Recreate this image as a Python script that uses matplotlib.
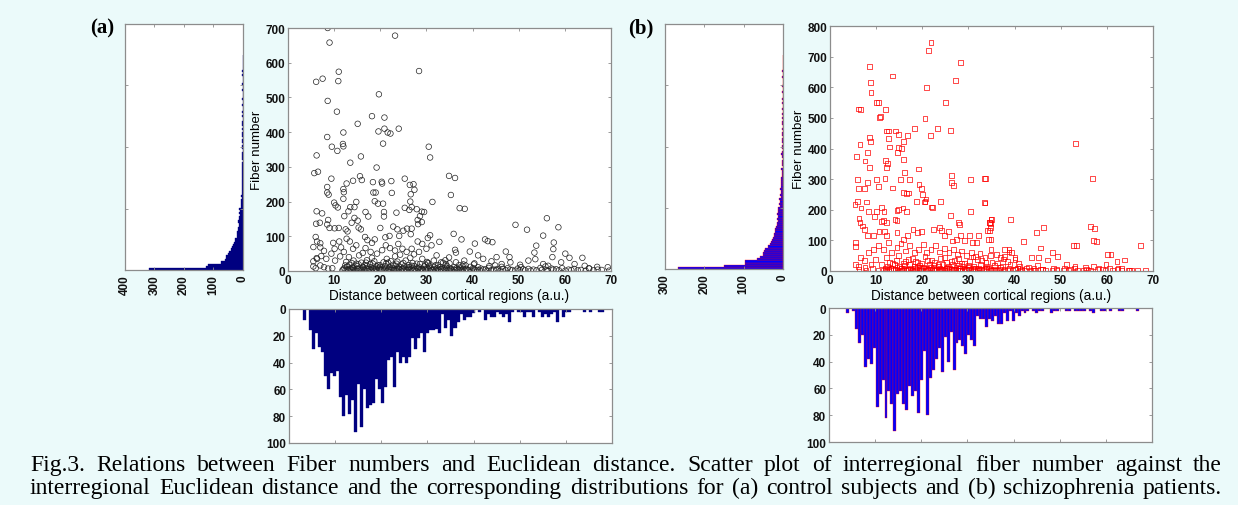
"""Fig.3 recreation: fiber number vs. Euclidean distance between cortical
regions, with marginal histograms, for (a) controls and (b) schizophrenia.
"""

import matplotlib

matplotlib.use("Agg")
import matplotlib.pyplot as plt  # noqa: E402
import numpy as np  # noqa: E402

W, H = 1238, 506
BG = "#ebfafa"
SPINE = "#8c8c8c"

plt.rcParams["font.family"] = ["Liberation Sans", "DejaVu Sans"]
plt.rcParams["font.weight"] = "bold"

# ---------------------------------------------------------------------------
# Marginal histograms (100 bins each)
# ---------------------------------------------------------------------------
DIST_RANGE_A = (3.1, 68.2)
DIST_RANGE_B = (3.7, 67.8)
dist_counts_a = [8, 0, 16, 30, 18, 28, 32, 50, 60, 48,
                 50, 46, 66, 80, 64, 78, 68, 92, 56, 88,
                 60, 74, 72, 70, 52, 60, 70, 58, 38, 36,
                 58, 32, 40, 36, 40, 36, 22, 30, 22, 18,
                 32, 18, 16, 16, 15, 18, 4, 14, 8, 20,
                 14, 10, 4, 8, 6, 6, 3, 0, 2, 0,
                 8, 4, 6, 6, 2, 4, 6, 4, 10, 2,
                 0, 2, 2, 6, 2, 2, 6, 0, 2, 6,
                 4, 6, 4, 2, 10, 0, 6, 2, 2, 0,
                 0, 0, 0, 2, 0, 2, 0, 0, 2, 2]
dist_counts_b = [4, 0, 2, 16, 26, 20, 44, 38, 42, 30,
                 74, 64, 54, 82, 62, 72, 92, 64, 62, 72,
                 76, 58, 66, 62, 78, 54, 32, 80, 52, 46,
                 38, 30, 48, 22, 40, 18, 46, 26, 24, 28,
                 34, 20, 24, 28, 6, 8, 8, 14, 8, 10,
                 6, 12, 12, 4, 10, 2, 10, 4, 6, 2,
                 4, 2, 0, 2, 4, 2, 2, 0, 0, 4,
                 2, 2, 0, 0, 2, 2, 0, 2, 2, 2,
                 2, 0, 2, 4, 0, 0, 2, 2, 0, 2,
                 0, 0, 2, 2, 0, 0, 0, 0, 2, 0]

# fiber-number histogram, bins of width 7 starting at 0
FIB_BIN = 7.0
fib_counts_a = [319, 124, 120, 75, 60, 56, 56, 50, 47, 42,
                38, 34, 30, 28, 26, 22, 20, 19, 17, 18,
                15, 14, 16, 12, 13, 11, 12, 10, 13, 8,
                7, 6, 8, 5, 6, 4, 3, 5, 2, 4,
                3, 2, 4, 3, 2, 3, 2, 4, 2, 3,
                0, 2, 3, 2, 2, 0, 3, 2, 0, 2,
                2, 0, 2, 3, 0, 2, 0, 2, 2, 0,
                0, 2, 0, 2, 0, 0, 2, 0, 0, 2,
                0, 0, 0, 2, 0, 0, 2, 0, 0, 0,
                2, 0, 2, 0, 0, 0, 0, 0, 0, 0]
fib_counts_b = [268, 151, 96, 96, 66, 58, 50, 50, 48, 45,
                38, 32, 30, 28, 26, 24, 22, 20, 20, 18,
                14, 14, 13, 14, 12, 14, 13, 12, 12, 8,
                10, 7, 9, 6, 8, 6, 5, 7, 4, 6,
                5, 4, 6, 3, 3, 2, 4, 0, 3, 2,
                3, 0, 2, 4, 2, 0, 3, 2, 0, 2,
                3, 0, 2, 2, 0, 3, 0, 2, 2, 0,
                2, 0, 2, 0, 2, 0, 0, 2, 0, 2,
                0, 0, 2, 0, 0, 2, 0, 0, 0, 2,
                0, 0, 2, 0, 0, 0, 0, 0, 0, 0]

# ---------------------------------------------------------------------------
# Scatter (a): control subjects -- (distance, fiber number)
# ---------------------------------------------------------------------------
sparse_a_x = [8.6, 9.0, 6.1, 7.5, 11.0, 10.9, 8.6, 10.6, 19.7, 23.2,
              28.4, 18.2, 20.9, 20.9, 21.6, 22.2, 19.6, 24.0, 15.1, 12.0,
              8.5, 9.5, 11.9, 12.0, 10.7, 20.6, 30.5, 30.8, 6.2, 15.8,
              13.5, 5.7, 6.5, 19.2, 9.4, 15.6, 16.0, 14.1, 12.7, 12.0,
              12.1, 12.0, 8.5, 8.5, 8.8, 18.4, 18.5, 19.0, 20.3, 20.4,
              22.4, 22.5, 25.3, 26.4, 27.2, 27.4, 26.6, 26.5, 25.3, 26.3,
              26.8, 27.9, 29.0, 29.5, 31.3, 28.6, 28.1, 28.2, 10.0, 10.3,
              10.8, 14.8, 14.4, 13.5, 13.1, 16.8, 17.4, 18.8, 19.5, 20.6,
              20.8, 20.8, 23.5, 6.2, 7.4, 6.1, 6.9, 8.5, 9.0, 8.7,
              10.1, 11.0, 12.2, 12.5, 12.9, 13.8, 14.4, 15.1, 15.3, 15.8,
              20.0, 21.1, 22.0, 22.8, 23.7, 24.1, 25.0, 25.8, 26.6, 26.8,
              29.0, 30.3, 30.8, 6.0, 6.3, 7.0, 5.5, 7.0, 7.8, 6.2,
              9.8, 10.1, 11.1, 11.5, 12.7, 13.4, 14.1, 14.8, 16.7, 17.2,
              18.2, 18.8, 16.8, 17.9, 21.2, 22.1, 23.2, 23.9, 24.8, 25.7,
              26.8, 28.1, 29.1, 30.0, 31.1, 32.8, 5.5, 6.0, 7.0, 7.8,
              8.7, 9.6, 5.5, 6.3, 8.3, 7.2,
              34.9, 36.2, 35.3, 37.2, 38.3, 35.9, 37.6, 40.5, 39.4, 42.7,
              43.3, 44.3, 47.2, 48.0, 49.3, 51.8, 56.1, 55.3, 53.8, 53.4,
              53.6, 58.6, 57.6, 57.5, 57.3, 60.1, 61.0, 63.8, 34.9, 36.2,
              36.4, 38.5, 67.0, 69.3]
sparse_a_y = [700, 658, 545, 554, 574, 547, 490, 459, 509, 678,
              576, 446, 442, 410, 399, 396, 402, 410, 424, 399,
              386, 358, 366, 359, 346, 367, 358, 327, 333, 330,
              312, 282, 286, 298, 266, 273, 262, 260, 252, 236,
              227, 208, 242, 226, 220, 256, 226, 226, 257, 252,
              259, 225, 266, 248, 250, 234, 221, 200, 182, 176,
              184, 178, 171, 170, 199, 158, 147, 135, 197, 189,
              183, 199, 184, 184, 172, 170, 157, 201, 194, 194,
              170, 157, 168, 172, 166, 136, 139, 134, 124, 147,
              123, 124, 158, 120, 114, 139, 153, 145, 125, 120,
              124, 97, 101, 128, 120, 101, 116, 122, 106, 122,
              141, 95, 103, 98, 85, 80, 69, 68, 58, 37,
              81, 64, 85, 68, 93, 85, 64, 74, 98, 89,
              81, 91, 66, 55, 74, 66, 59, 78, 64, 55,
              64, 85, 78, 64, 74, 84, 13, 8, 16, 11,
              7, 8, 28, 35, 35, 43,
              274, 268, 219, 181, 179, 107, 91, 79, 56, 91,
              86, 83, 56, 40, 133, 119, 152, 102, 73, 53,
              34, 126, 82, 63, 40, 50, 38, 38, 39, 61,
              53, 16, 12, 11]

# low-fiber band (a), where markers pile up into a dark stripe
band_a_x = [11.8, 12.5, 13.1, 13.9, 14.6, 15.2, 16.0, 16.7, 17.3, 18.1,
            18.8, 19.4, 20.2, 20.9, 21.5, 22.3, 23.0, 23.6, 24.4, 25.1,
            25.7, 26.5, 27.2, 27.8, 28.6, 29.3, 29.9, 30.7, 31.4, 32.0,
            32.8, 33.5, 34.1, 34.9, 35.6, 36.2, 37.0, 37.7, 38.3, 39.1,
            39.8, 40.6, 41.5, 42.3, 43.2, 44.0, 45.1, 46.0, 47.2, 48.1,
            49.3, 50.2, 51.4, 52.6, 53.9, 55.0, 56.3, 57.5, 58.7, 60.1,
            61.4, 62.8, 64.5, 66.2, 68.0, 69.6,
            12.2, 13.4, 14.1, 15.5, 16.3, 17.6, 18.4, 19.7, 20.5, 21.8,
            22.6, 23.9, 24.7, 26.0, 26.8, 28.1, 28.9, 30.2, 31.0, 32.3,
            33.1, 34.4, 35.2, 36.5, 37.3, 38.6, 40.1, 41.8, 43.5, 45.4,
            47.6, 49.8, 52.1, 54.7, 57.1, 59.4, 62.0, 65.3,
            12.8, 14.0, 15.0, 16.2, 17.1, 18.0, 19.2, 20.0, 21.1, 22.0,
            23.3, 24.1, 25.2, 26.3, 27.4, 28.3, 29.5, 30.6, 31.7, 33.0,
            34.5, 36.0, 37.8, 39.5, 41.2, 43.6, 46.3, 50.5, 55.8,
            13.3, 14.8, 16.6, 17.8, 19.5, 21.3, 22.8, 24.6, 26.2, 27.9,
            29.8, 31.9, 34.2, 37.1, 40.3, 44.9,
            12.6, 15.9, 18.7, 20.7, 23.7, 27.0, 30.1, 33.6,
            13.2, 15.4, 17.1, 19.3, 21.4, 23.2, 25.5, 27.3, 29.1, 31.6,
            33.2, 12.1, 16.2, 20.4, 24.3, 28.4, 32.2, 18.2, 22.3, 26.5,
            30.4, 34.1, 14.2, 11.3, 9.4, 10.2, 36.4, 38.2, 40.4, 42.3,
            44.1, 46.3, 41.2, 45.2, 50.3, 52.1, 55.3, 59.2, 62.1, 64.3,
            48.2, 56.4, 65.2,
            12.0, 12.9, 13.6, 14.3, 15.0, 15.8, 16.5, 17.1, 17.9, 18.6,
            19.1, 19.9, 20.6, 21.2, 22.0, 22.8, 23.3, 24.1, 24.9, 25.5,
            26.2, 27.0, 27.5, 28.3, 29.0, 29.6, 30.4, 31.1, 31.7, 32.5,
            33.2, 33.9, 34.6, 35.3, 36.0, 36.7, 37.4, 38.0, 38.9, 40.3,
            41.0, 42.8, 44.6, 46.6, 48.6, 51.0, 53.2, 56.0, 58.1, 60.8,
            63.5, 67.1,
            12.4, 13.8, 15.3, 16.9, 18.4, 19.9, 21.7, 23.5, 25.0, 26.8,
            28.6, 30.3, 32.5, 35.0, 38.0]
band_a_y = [2, 4, 1, 3, 2, 5, 1, 3, 4, 2,
            1, 3, 2, 4, 1, 3, 2, 5, 2, 1,
            3, 4, 2, 1, 3, 2, 4, 1, 2, 3,
            1, 4, 2, 3, 1, 2, 4, 1, 3, 2,
            1, 3, 2, 4, 1, 2, 3, 1, 2, 4,
            1, 3, 2, 1, 2, 3, 1, 4, 2, 1,
            3, 2, 1, 2, 3, 1,
            8, 6, 9, 7, 10, 6, 8, 9, 7, 6,
            9, 8, 6, 10, 7, 8, 6, 9, 7, 8,
            6, 9, 7, 8, 10, 6, 8, 7, 9, 6,
            8, 7, 6, 9, 7, 8, 6, 7,
            13, 11, 14, 12, 15, 11, 13, 12, 14, 11,
            15, 12, 13, 11, 14, 12, 13, 15, 11, 12,
            14, 11, 13, 12, 11, 14, 12, 11, 13,
            18, 21, 17, 20, 16, 22, 18, 19, 17, 21,
            18, 16, 20, 17, 19, 16,
            26, 24, 28, 25, 27, 23, 26, 24,
            40, 45, 31, 50, 35, 42, 30, 48, 35, 30,
            25, 55, 52, 60, 47, 55, 45, 38, 28, 38,
            22, 31, 30, 42, 50, 30, 25, 30, 22, 35,
            28, 20, 45, 40, 18, 30, 20, 25, 20, 15,
            25, 15, 8,
            5, 3, 6, 4, 7, 3, 5, 6, 2, 4,
            6, 5, 3, 7, 4, 6, 3, 5, 7, 4,
            6, 3, 5, 7, 4, 6, 5, 3, 6, 4,
            5, 7, 3, 6, 4, 5, 3, 6, 4, 5,
            3, 5, 4, 6, 3, 5, 4, 3, 5, 4,
            3, 4,
            16, 23, 19, 24, 21, 17, 24, 21, 23, 15,
            20, 24, 17, 22, 19]

# ---------------------------------------------------------------------------
# Scatter (b): schizophrenia patients
# ---------------------------------------------------------------------------
sparse_b_x = [21.9, 21.4, 28.3, 8.5, 13.5, 8.7, 8.9, 21.0, 27.2, 10.1,
              10.5, 25.1, 6.1, 6.6, 12.0, 10.7, 11.0, 20.6, 12.3, 12.6,
              14.2, 14.9, 18.4, 23.3, 21.7, 26.2, 6.5, 8.6, 8.7, 12.6,
              12.9, 8.1, 5.8, 7.6, 12.1, 12.4, 12.3, 14.6, 14.9, 15.5,
              16.0, 16.8, 16.0, 16.1, 8.6, 6.0, 6.2, 7.5, 8.1, 10.0,
              10.5, 11.9, 13.5, 15.3, 17.3, 19.2, 19.3, 19.8, 20.0, 20.4,
              15.9, 16.5, 17.0, 26.4, 26.4, 26.7, 30.5, 33.5, 23.9, 22.0,
              22.3, 20.8, 20.6, 18.8, 5.4, 5.9, 6.7, 7.9, 6.3, 6.5,
              8.3, 10.1, 9.6, 11.2, 11.7, 14.5, 14.9, 15.8, 16.5, 26.1,
              27.8, 28.1, 30.4, 33.5, 35.0, 34.8, 7.1, 7.5, 8.1, 9.4,
              10.6, 11.8, 12.3, 14.5, 16.0, 16.8,
              18.0, 18.9, 19.9, 22.5, 23.8, 24.1, 24.9, 25.7, 26.6, 27.5,
              28.3, 29.1, 30.3, 30.9, 31.8, 32.2, 34.2, 34.5, 5.5, 5.6,
              6.6, 7.4, 5.6, 11.1, 11.6, 12.3, 14.1, 14.5,
              8.3, 9.4, 10.5, 11.6, 12.6, 13.4, 14.5, 15.4, 16.3, 17.3,
              18.3, 19.1, 20.2, 21.0, 21.9, 22.8, 23.8, 24.8, 25.8, 26.7,
              27.6, 28.5, 29.6, 30.7, 31.6, 32.5, 33.6, 34.7, 9.8, 11.2,
              7.6, 8.9, 6.1, 6.3, 7.8, 9.2, 10.4,
              53.2, 56.9, 33.7, 33.6, 34.5, 34.7, 34.9, 34.6, 34.3, 34.9,
              39.2, 41.9, 44.8, 46.2, 45.6, 52.8, 53.5, 56.4, 57.3, 57.1,
              57.7, 67.3, 60.2, 60.9, 62.2, 63.9, 40.1, 38.8, 37.9, 43.7,
              45.1, 47.1, 48.2, 49.3, 51.3, 53.1, 55.3, 57.1, 59.8, 63.1,
              65.4, 68.3, 34.9, 36.1, 36.9, 37.9, 38.8, 39.4, 40.1]
sparse_b_y = [747, 719, 681, 669, 637, 616, 582, 600, 622, 551,
              551, 551, 529, 527, 527, 500, 505, 498, 457, 457,
              457, 446, 464, 466, 442, 458, 414, 436, 424, 432,
              405, 387, 375, 359, 361, 352, 337, 387, 403, 400,
              424, 442, 363, 322, 339, 300, 270, 270, 289, 299,
              275, 301, 271, 300, 299, 333, 282, 270, 251, 225,
              257, 253, 255, 313, 289, 279, 300, 302, 227, 209,
              207, 235, 226, 226, 218, 228, 206, 225, 171, 158,
              193, 193, 178, 208, 193, 198, 200, 206, 193, 180,
              158, 153, 194, 223, 167, 156, 147, 136, 115, 115,
              129, 129, 115, 126, 104, 115,
              136, 126, 130, 136, 143, 131, 115, 129, 98, 104,
              115, 99, 115, 94, 92, 115, 132, 158, 93, 79,
              43, 33, 22, 162, 164, 158, 169, 165,
              60, 71, 82, 71, 93, 60, 76, 91, 65, 82,
              60, 71, 87, 60, 71, 82, 62, 73, 60, 71,
              55, 65, 51, 60, 47, 56, 44, 51, 38, 22,
              11, 22, 16, 5, 3, 8, 2,
              416, 302, 302, 222, 131, 142, 169, 158, 102, 102,
              167, 97, 126, 142, 75, 84, 82, 144, 139, 100,
              97, 82, 53, 53, 31, 36, 38, 62, 71, 43,
              43, 36, 60, 47, 22, 16, 11, 14, 22, 8,
              3, 3, 71, 54, 44, 47, 69, 60, 44]

band_b_x = [11.5, 12.3, 12.8, 13.7, 14.2, 15.1, 15.6, 16.5, 17.0, 17.9,
            18.4, 19.3, 19.8, 20.7, 21.2, 22.1, 22.6, 23.5, 24.0, 24.9,
            25.4, 26.3, 26.8, 27.7, 28.2, 29.1, 29.6, 30.5, 31.0, 31.9,
            32.4, 33.3, 33.8, 34.7, 35.2, 36.1, 36.7, 37.7, 38.4, 39.5,
            40.2, 41.3, 42.1, 43.4, 44.4, 45.7, 46.7, 48.1, 49.2, 50.6,
            51.7, 53.6, 54.9, 56.5, 57.9, 59.7, 61.2, 63.1, 64.7, 66.6,
            12.0, 13.2, 14.5, 15.4, 16.8, 17.5, 18.9, 19.6, 21.0, 21.7,
            23.1, 23.8, 25.2, 25.9, 27.3, 28.0, 29.4, 30.1, 31.5, 32.2,
            33.6, 34.3, 35.7, 37.0, 38.8, 40.6, 42.5, 44.2, 46.0, 48.4,
            50.9, 53.0, 55.6, 58.3, 60.5, 62.4,
            12.5, 13.9, 15.0, 16.1, 17.3, 18.3, 19.4, 20.3, 21.5, 22.4,
            23.6, 24.5, 25.7, 26.6, 27.8, 28.8, 30.0, 31.2, 32.6, 34.0,
            35.6, 37.3, 39.0, 41.0, 43.0, 45.0,
            12.9, 14.4, 16.0, 17.0, 18.6, 19.9, 21.2, 22.7, 24.0, 25.3,
            26.9, 28.5, 30.3, 32.0, 33.8, 36.3, 38.4,
            11.9, 12.7, 13.2, 14.1, 14.6, 15.5, 16.0, 16.9, 17.4, 18.3,
            18.8, 19.7, 20.2, 21.1, 21.6, 22.5, 23.0, 23.9, 24.4, 25.3,
            25.8, 26.7, 27.2, 28.1, 28.6, 29.5, 30.0, 30.9, 31.4, 32.3,
            32.9, 34.0, 34.9, 36.5, 37.9, 40.0, 41.6, 44.0, 46.1, 49.1,
            52.2, 55.9, 59.0, 62.3, 64.9,
            12.2, 13.5, 14.9, 16.3, 17.8, 19.0, 20.6, 22.0, 23.4, 24.9,
            26.3, 27.9, 29.2, 31.0, 32.8, 35.1, 37.6, 40.8]
band_b_y = [3, 1, 4, 2, 5, 1, 3, 2, 4, 1,
            2, 5, 1, 3, 2, 4, 1, 3, 5, 2,
            1, 4, 2, 3, 1, 5, 2, 4, 1, 3,
            2, 1, 4, 3, 1, 2, 5, 1, 3, 2,
            4, 1, 2, 3, 1, 4, 2, 1, 3, 2,
            1, 3, 2, 1, 4, 2, 1, 3, 2, 1,
            9, 7, 11, 8, 6, 10, 12, 7, 9, 11,
            6, 8, 10, 7, 12, 9, 6, 11, 8, 10,
            7, 9, 6, 11, 8, 10, 7, 9, 6, 8,
            7, 10, 6, 8, 9, 7,
            16, 20, 14, 18, 22, 15, 19, 13, 21, 17,
            14, 20, 16, 22, 18, 14, 19, 16, 21, 15,
            18, 14, 20, 16, 13, 17,
            28, 34, 25, 38, 30, 26, 35, 29, 40, 27,
            33, 24, 31, 37, 28, 26, 32,
            6, 4, 7, 5, 3, 8, 5, 6, 4, 7,
            5, 3, 8, 6, 4, 7, 5, 3, 6, 8,
            4, 6, 5, 7, 3, 6, 4, 8, 5, 6,
            4, 7, 5, 3, 6, 4, 5, 3, 6, 4,
            5, 3, 4, 6, 3,
            45, 24, 50, 31, 42, 27, 48, 36, 22, 44,
            30, 41, 25, 46, 35, 28, 39, 24]

CAPTION = [
    "Fig.3. Relations between Fiber numbers and Euclidean distance. Scatter plot "
    "of interregional fiber number against the",
    "interregional Euclidean distance and the corresponding distributions for "
    "(a) control subjects and (b) schizophrenia patients.",
]


def px_axes(fig, x0, y0, x1, y1):
    """Axes from pixel box (top-left origin)."""
    return fig.add_axes([x0 / W, 1 - y1 / H, (x1 - x0) / W, (y1 - y0) / H])


def style_box(ax):
    for sp in ax.spines.values():
        sp.set_color(SPINE)
        sp.set_linewidth(0.9)
    ax.tick_params(direction="in", length=2.5, width=0.6, color=SPINE,
                   top=True, right=True, labelsize=8.5, pad=2,
                   labelcolor="#111111")


def draw_panel(fig, boxes, sx, sy, dist_counts, dist_range, fib_counts,
               ymax, hist_xmax, marker, mcolor, face, edge, msize):
    left_box, sc_box, bot_box = boxes

    # scatter
    ax = px_axes(fig, *sc_box)
    ax.scatter(sx, sy, s=msize, marker=marker, facecolors="none",
               edgecolors=mcolor, linewidths=0.5)
    ax.set_xlim(0, 70)
    ax.set_ylim(0, ymax)
    ax.set_xticks(np.arange(0, 71, 10))
    ax.set_yticks(np.arange(0, ymax + 1, 100))
    style_box(ax)
    ax.set_xlabel("Distance between cortical regions (a.u.)", fontsize=9.8,
                  labelpad=1.5)
    ax.set_ylabel("Fiber number", fontsize=9.6, labelpad=2)

    # left: fiber-number histogram, bars grow leftwards
    axl = px_axes(fig, *left_box)
    centers = FIB_BIN * (np.arange(len(fib_counts)) + 0.5)
    axl.barh(centers, fib_counts, height=FIB_BIN, color=face, edgecolor=edge,
             linewidth=0.25)
    axl.set_xlim(hist_xmax, 0)
    axl.set_ylim(0, 800)
    axl.set_xticks(np.arange(0, hist_xmax + 1, 100))
    axl.set_yticks([0, 200, 400, 600, 800])
    axl.set_yticklabels([])
    style_box(axl)
    for lbl in axl.get_xticklabels():
        lbl.set_rotation(90)
    axl.tick_params(axis="x", pad=3, labelsize=8.5)

    # bottom: distance histogram, bars hang downwards
    axb = px_axes(fig, *bot_box)
    lo, hi = dist_range
    edges = np.linspace(lo, hi, len(dist_counts) + 1)
    axb.bar(edges[:-1], dist_counts, width=np.diff(edges), align="edge",
            color=face, edgecolor=edge, linewidth=0.25)
    axb.set_xlim(0, 70)
    axb.set_ylim(100, 0)
    axb.set_xticks(np.arange(0, 71, 10))
    axb.set_xticklabels([])
    axb.set_yticks(np.arange(0, 101, 20))
    style_box(axb)


def justify_line(fig, text, x0, x1, y, **kw):
    """Place words so the line spans exactly x0..x1 (pixels)."""
    renderer = fig.canvas.get_renderer()
    words = text.split()
    arts = [fig.text(0, y / H, w, **kw) for w in words]
    widths = [a.get_window_extent(renderer).width for a in arts]
    gap = (x1 - x0 - sum(widths)) / (len(words) - 1)
    x = x0
    for a, w in zip(arts, widths):
        a.set_x(x / W)
        x += w + gap


def main() -> None:
    fig = plt.figure(figsize=(W / 100, H / 100), dpi=100, facecolor=BG)

    sx_a = sparse_a_x + band_a_x
    sy_a = sparse_a_y + band_a_y
    sx_b = sparse_b_x + band_b_x
    sy_b = sparse_b_y + band_b_y

    draw_panel(fig,
               [(125, 25, 243, 271), (288, 29, 611, 272), (289, 310, 612, 444)],
               sx_a, sy_a, dist_counts_a, DIST_RANGE_A, fib_counts_a,
               700, 400, "o", "#222222", "#000080", "#000080", 16)
    draw_panel(fig,
               [(665, 25, 783, 270), (830, 27, 1153, 272), (829, 309, 1152, 443)],
               sx_b, sy_b, dist_counts_b, DIST_RANGE_B, fib_counts_b,
               800, 300, "s", "red", "#0000ff", "#ff0000", 12)

    for label, x in (("(a)", 90), ("(b)", 628)):
        fig.text(x / W, 1 - 28 / H, label, fontsize=15, fontweight="bold",
                 family=["Liberation Serif", "DejaVu Serif"], va="center")

    y_lines = [1 - 471 / H, 1 - 494 / H]
    for text, yl in zip(CAPTION, y_lines):
        justify_line(fig, text, 30, 1222, yl * H, fontsize=17,
                     family=["Liberation Serif", "DejaVu Serif"],
                     fontweight="normal", va="baseline")

    fig.savefig("out.png", dpi=100, facecolor=BG)
    plt.close(fig)


if __name__ == "__main__":
    main()
